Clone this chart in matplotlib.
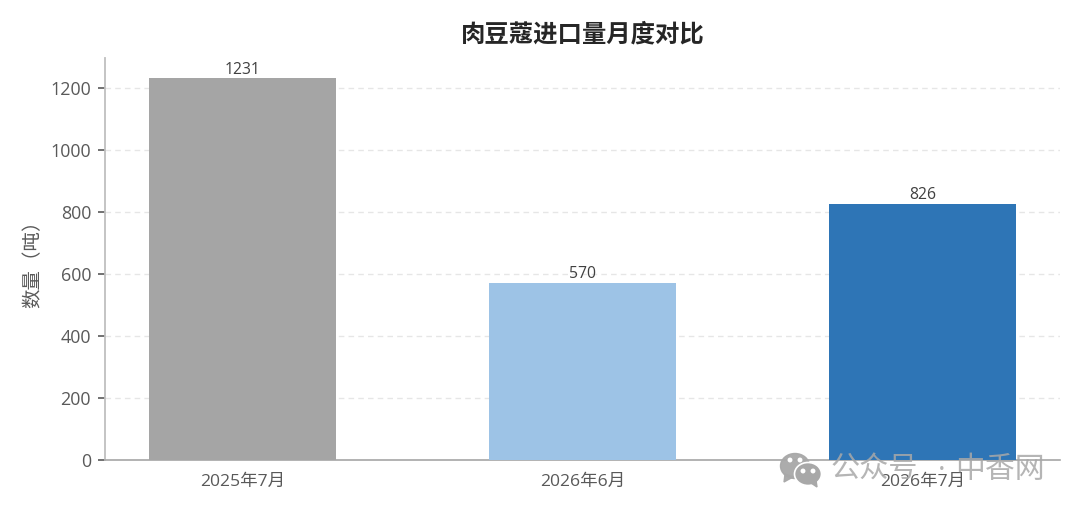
import matplotlib
matplotlib.use("Agg")
import matplotlib.pyplot as plt
from matplotlib.patches import Ellipse, Polygon

plt.rcParams['font.family'] = ['Open Sans', 'Noto Sans CJK SC', 'DejaVu Sans']

months = ['2025年7月', '2026年6月', '2026年7月']
amounts = [1231, 570, 826]
bar_colors = ['#a5a5a5', '#9dc3e6', '#2e75b6']
y_ticks = [0, 200, 400, 600, 800, 1000, 1200]

fig = plt.figure(figsize=(10.8, 5.13), dpi=100)
ax = fig.add_axes([105 / 1080, 1 - 460 / 513, 955 / 1080, 402 / 513])

bars = ax.bar(months, amounts, width=0.55, color=bar_colors, zorder=3)
for rect, val in zip(bars, amounts):
    ax.text(rect.get_x() + rect.get_width() / 2, val + 3, str(val), ha='center', va='bottom',
            fontsize=11.3, color='#404040', zorder=4)

ax.set_xlim(-0.404, 2.404)
ax.set_ylim(0, 1297)
ax.set_yticks(y_ticks)
ax.tick_params(axis='y', labelsize=12.9, colors='#595959', length=5, width=1.2, pad=5)
ax.tick_params(axis='x', labelsize=12.6, colors='#595959', length=0, pad=10)
ax.set_ylabel('数量（吨）', fontsize=14, color='#595959', labelpad=6)
ax.set_title('肉豆蔻进口量月度对比', fontsize=17.6, fontweight='bold', color='#262626', x=0.5, y=1.0, pad=12)

ax.grid(axis='y', linestyle=(0, (4, 3)), color='#e6e6e6', linewidth=1, zorder=0)
ax.spines['top'].set_visible(False)
ax.spines['right'].set_visible(False)
ax.spines['left'].set_color('#bfbfbf')
ax.spines['bottom'].set_color('#a6a6a6')
ax.spines['left'].set_linewidth(1.3)
ax.spines['bottom'].set_linewidth(1.2)

# watermark on top of everything, in figure pixels
overlay = fig.add_axes([0, 0, 1, 1], facecolor='none')
overlay.set_xlim(0, 1080)
overlay.set_ylim(513, 0)
overlay.axis('off')
wm = '#a8a8a8'
overlay.add_patch(Ellipse((795, 466), 29, 25, color=wm, alpha=0.95))
overlay.add_patch(Polygon([[785, 474], [784, 482], [793, 477]], color=wm, alpha=0.95))
overlay.add_patch(Ellipse((808, 474), 27, 23, facecolor=wm, edgecolor='white', linewidth=1.2))
overlay.add_patch(Polygon([[811, 483], [817, 487], [816, 480]], color=wm))
for px, py in [(790, 460), (800, 460), (803, 471), (813, 471)]:
    overlay.add_patch(Ellipse((px, py), 3.5, 3.5, color='white'))
overlay.text(831, 470, '公众号', fontsize=21, color=wm, alpha=0.85, ha='left', va='center')
overlay.text(942, 471, '·', fontsize=21, color=wm, alpha=0.85, ha='center', va='center')
overlay.text(955, 470, '中香网', fontsize=21.5, color=wm, alpha=0.85, ha='left', va='center')

fig.savefig('out.png', dpi=100)
